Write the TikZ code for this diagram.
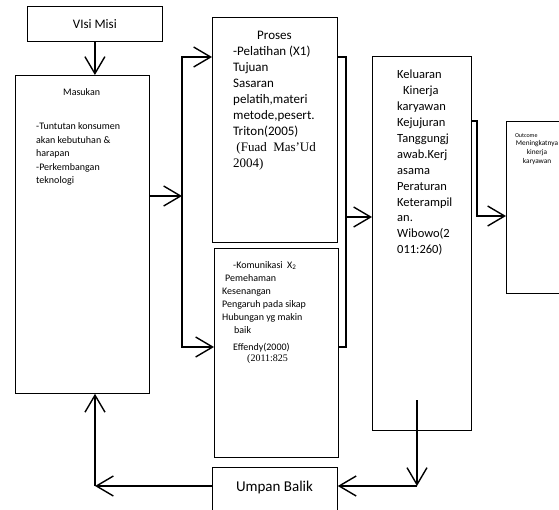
\documentclass[tikz,border=0pt]{standalone}
\usepackage{fontspec}
\setmainfont{Carlito}
\newfontfamily\timesfont{Liberation Serif}
\usetikzlibrary{arrows.meta}

\begin{document}
\begin{tikzpicture}[x=1pt,y=-1pt,
    box/.style={draw,line width=0.8pt,inner sep=0pt,anchor=north west},
    txt/.style={inner sep=0pt,anchor=north west,align=left},
    line/.style={line width=1.4pt},
    arr/.style={line width=1.4pt,-{Straight Barb[length=17pt,width=20pt]}}]
  \useasboundingbox (0,0) rectangle (559,509);

  \node[box,minimum width=135,minimum height=35,font=\fontsize{13}{15}\selectfont] (visi) at (27,6) {VIsi Misi};
  \node[box,minimum width=134,minimum height=318] (masukan) at (15,75) {};
  \node[box,minimum width=125,minimum height=225] (proses) at (212,17) {};
  \node[box,minimum width=124,minimum height=209] (komunikasi) at (214,248) {};
  \node[box,minimum width=99,minimum height=374] (keluaran) at (372,56) {};
  \node[box,minimum width=60,minimum height=172] (outcome) at (506,121) {};
  \node[box,minimum width=125,minimum height=46] (umpan) at (212,467) {};

  \node[txt,font=\fontsize{10}{13.5}\selectfont] (masukantxt) at (36,88)
    {\hspace*{27pt}Masukan\\[21pt]-Tuntutan konsumen\\akan kebutuhan \&\\harapan\\-Perkembangan\\teknologi};
  \node[txt,font=\fontsize{13}{16}\selectfont] (prosestxt) at (233,31)
    {\hspace*{24pt}Proses\\-Pelatihan (X1)\\Tujuan\\Sasaran\\pelatih,materi\\metode,pesert.\\Triton(2005)\\{\timesfont\ (Fuad\ \ Mas’Ud}\\{\timesfont 2004)}};
  \node[txt,font=\fontsize{10}{13}\selectfont] (komunikasitxt) at (222,261)
    {\hspace*{11pt}-Komunikasi\ \ X\textsubscript{2}\\\hspace*{3pt}Pemehaman\\Kesenangan\\Pengaruh pada sikap\\Hubungan yg makin\\\hspace*{12pt}baik\\[4pt]\hspace*{11pt}Effendy(2000)\\[-2pt]\hspace*{25pt}{\timesfont (2011:825}};
  \node[txt,font=\fontsize{12.5}{15.9}\selectfont] (keluarantxt) at (397,70)
    {Keluaran\\\hspace*{6pt}Kinerja\\karyawan\\Kejujuran\\Tanggungj\\awab.Kerj\\asama\\Peraturan\\Keterampil\\an.\\Wibowo(2\\011:260)};
  \node[inner sep=0pt,anchor=north,align=center,font=\fontsize{7.3}{8.7}\selectfont] (outcometxt) at (537,133)
    {\hspace*{-2pt}\makebox[42pt][l]{\fontsize{6}{8.7}\selectfont Outcome}\\Meningkatnya\\kinerja\\karyawan};
  \node[font=\fontsize{15}{18}\selectfont] (umpantxt) at (274.5,487) {Umpan Balik};

  \coordinate (split) at (182,196);
  \coordinate (splittop) at (182,57);
  \coordinate (splitbot) at (182,347);
  \coordinate (jointop) at (346,57);
  \coordinate (joinbot) at (346,347);
  \coordinate (joinmid) at (346,217);
  \coordinate (bendtop) at (477,121);
  \coordinate (bendbot) at (477,216);
  \coordinate (fbtop) at (417,400);
  \coordinate (fbcorner) at (417,486);
  \coordinate (fbleft) at (95,486);

  \draw[arr] (visi.south) -- (visi.south |- masukan.north);
  \draw[arr] (masukan.east |- split) -- (split);
  \draw[arr] (splitbot) -- (splittop) -- (splittop -| proses.west);
  \draw[arr] (splittop) -- (splitbot) -- (splitbot -| komunikasi.west);
  \draw[line] (jointop -| proses.east) -- (jointop) -- (joinbot) -- (joinbot -| komunikasi.east);
  \draw[arr] (joinmid) -- (joinmid -| keluaran.west);
  \draw[arr] (keluaran.east |- bendtop) -- (bendtop) -- (bendbot) -- (bendbot -| outcome.west);
  \draw[arr] (fbtop) -- (fbcorner);
  \draw[arr] (fbcorner) -- (fbcorner -| umpan.east);
  \draw[arr] (umpan.west |- fbleft) -- (fbleft);
  \draw[arr] (fbleft) -- (fbleft |- masukan.south);
\end{tikzpicture}
\end{document}
